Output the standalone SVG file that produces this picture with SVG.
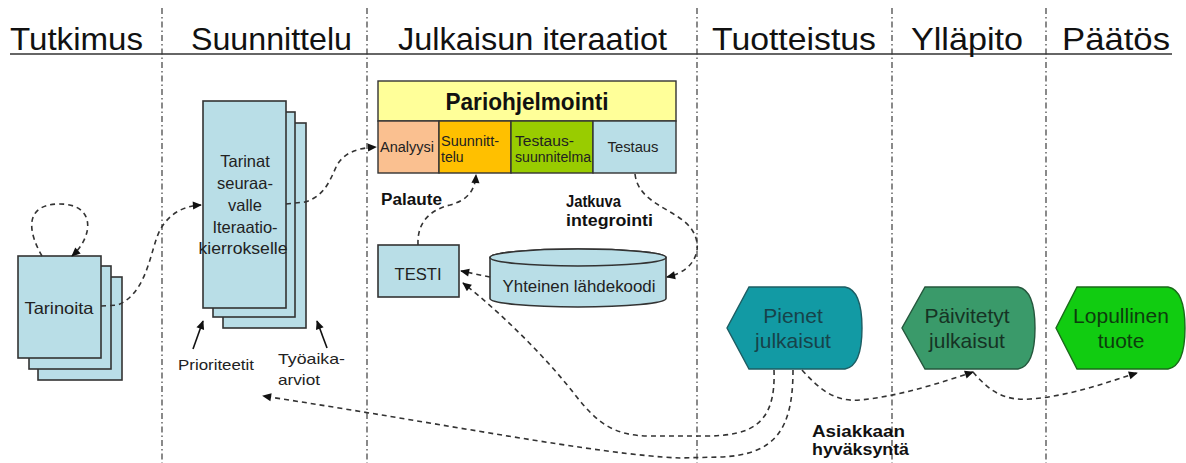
<svg xmlns="http://www.w3.org/2000/svg" width="1186" height="463" viewBox="0 0 1186 463">
  <defs>
    <marker id="ah" viewBox="0 0 10 10" refX="9" refY="5" markerWidth="10" markerHeight="9" markerUnits="userSpaceOnUse" orient="auto">
      <path d="M0,0.5 L10,5 L0,9.5 Z" fill="#111"/>
    </marker>
    <style>
      .hdr { font-family: "Liberation Sans", Arial, sans-serif; font-size: 32px; fill: #111; }
      .lbl { font-family: "Liberation Sans", Arial, sans-serif; fill: #222; }
      .bold { font-family: "Liberation Sans", Arial, sans-serif; font-weight: bold; fill: #111; }
      .divider { stroke: #2a2a2a; stroke-width: 1.1; stroke-dasharray: 6 3 1.5 3; fill: none; }
      .card { fill: #B9DEE7; stroke: #333; stroke-width: 1.6; }
      .cell { stroke: #333; stroke-width: 1.4; }
      .flow { fill: none; stroke: #333; stroke-width: 1.6; stroke-dasharray: 5 4; marker-end: url(#ah); }
      .solid { fill: none; stroke: #111; stroke-width: 1.6; marker-end: url(#ah); }
      .disp { font-family: "Liberation Sans", Arial, sans-serif; font-size: 21px; text-anchor: middle; }
    </style>
  </defs>

  <rect width="1186" height="463" fill="#fff"/>

  <!-- phase columns -->
  <g id="phases">
    <line class="divider" x1="162" y1="8" x2="162" y2="463"/>
    <line class="divider" x1="367" y1="8" x2="367" y2="463"/>
    <line class="divider" x1="697" y1="8" x2="697" y2="463"/>
    <line class="divider" x1="892" y1="8" x2="892" y2="463"/>
    <line class="divider" x1="1046" y1="8" x2="1046" y2="463"/>
    <line x1="10" y1="54" x2="1172" y2="54" stroke="#333" stroke-width="1.6"/>
    <text class="hdr" x="10" y="50" textLength="133" lengthAdjust="spacingAndGlyphs">Tutkimus</text>
    <text class="hdr" x="191" y="50" textLength="161" lengthAdjust="spacingAndGlyphs">Suunnittelu</text>
    <text class="hdr" x="398" y="50" textLength="269" lengthAdjust="spacingAndGlyphs">Julkaisun iteraatiot</text>
    <text class="hdr" x="712" y="50" textLength="164" lengthAdjust="spacingAndGlyphs">Tuotteistus</text>
    <text class="hdr" x="911" y="50" textLength="112" lengthAdjust="spacingAndGlyphs">Ylläpito</text>
    <text class="hdr" x="1062" y="50" textLength="108" lengthAdjust="spacingAndGlyphs">Päätös</text>
  </g>

  <!-- story stack -->
  <g id="tarinoita">
    <rect class="card" x="38" y="277" width="84" height="103"/>
    <rect class="card" x="29" y="266" width="82" height="103"/>
    <rect class="card" x="18" y="256" width="83" height="102"/>
    <text class="lbl" x="59" y="314" font-size="16.5" text-anchor="middle" textLength="69" lengthAdjust="spacingAndGlyphs">Tarinoita</text>
  </g>

  <!-- stories for next iteration -->
  <g id="tarinat">
    <rect class="card" x="223" y="123" width="83" height="205"/>
    <rect class="card" x="213" y="112" width="82" height="205"/>
    <rect class="card" x="203" y="101" width="83" height="207"/>
    <g class="lbl" font-size="16.5" text-anchor="middle">
      <text x="245" y="167">Tarinat</text>
      <text x="245" y="189">seuraa-</text>
      <text x="245" y="211">valle</text>
      <text x="245" y="233">Iteraatio-</text>
      <text x="243" y="254" textLength="89" lengthAdjust="spacingAndGlyphs">kierrokselle</text>
    </g>
  </g>

  <g id="prioriteetit">
    <text class="lbl" x="178" y="370" font-size="15" textLength="76" lengthAdjust="spacingAndGlyphs">Prioriteetit</text>
  </g>
  <g id="tyoaika">
    <text class="lbl" x="278" y="364" font-size="15" textLength="67" lengthAdjust="spacingAndGlyphs">Työaika-</text>
    <text class="lbl" x="278" y="385" font-size="15" textLength="42" lengthAdjust="spacingAndGlyphs">arviot</text>
  </g>

  <!-- pair programming block -->
  <g id="pariohjelmointi">
    <rect class="cell" x="378" y="81" width="298" height="40" fill="#FFFF99"/>
    <text class="bold" x="527" y="110" font-size="23" text-anchor="middle" textLength="163" lengthAdjust="spacingAndGlyphs">Pariohjelmointi</text>
  </g>
  <g id="analyysi">
    <rect class="cell" x="378" y="121" width="61" height="52" fill="#FAC090"/>
    <text class="lbl" x="380" y="152" font-size="14" textLength="54" lengthAdjust="spacingAndGlyphs">Analyysi</text>
  </g>
  <g id="suunnittelu-cell">
    <rect class="cell" x="439" y="121" width="72" height="52" fill="#FFC000"/>
    <text class="lbl" x="441" y="146" font-size="14" textLength="58" lengthAdjust="spacingAndGlyphs">Suunnitt-</text>
    <text class="lbl" x="441" y="162" font-size="14">telu</text>
  </g>
  <g id="testaussuunnitelma">
    <rect class="cell" x="511" y="121" width="82" height="52" fill="#99CC00"/>
    <text class="lbl" x="515" y="146" font-size="14" textLength="59" lengthAdjust="spacingAndGlyphs">Testaus-</text>
    <text class="lbl" x="515" y="162" font-size="14" textLength="76" lengthAdjust="spacingAndGlyphs">suunnitelma</text>
  </g>
  <g id="testaus">
    <rect class="cell" x="593" y="121" width="83" height="52" fill="#B9DEE7"/>
    <text class="lbl" x="633" y="152" font-size="14" text-anchor="middle" textLength="51" lengthAdjust="spacingAndGlyphs">Testaus</text>
  </g>

  <g id="testi">
    <rect class="card" x="378" y="245" width="81" height="52"/>
    <text class="lbl" x="418" y="280" font-size="16" text-anchor="middle" textLength="47" lengthAdjust="spacingAndGlyphs">TESTI</text>
  </g>

  <!-- shared source repository -->
  <g id="lahdekoodi">
    <path class="card" d="M490,257.5 L490,298.5 A88,8.5 0 0 0 666,298.5 L666,257.5 A88,8.5 0 0 0 490,257.5 Z"/>
    <ellipse cx="578" cy="257.5" rx="88" ry="8.5" fill="#B9DEE7" stroke="#333" stroke-width="1.6"/>
    <text class="lbl" x="579" y="292" font-size="16" text-anchor="middle" textLength="153" lengthAdjust="spacingAndGlyphs">Yhteinen lähdekoodi</text>
  </g>

  <!-- release shapes -->
  <g id="pienet">
    <path d="M749,287 L845,287 Q862,290 862,328 Q862,366 845,369 L749,369 L727,328 Z" fill="#129AA4" stroke="#1d5d63" stroke-width="1.4"/>
    <text class="disp" x="793" y="323" fill="#17434a">Pienet</text>
    <text class="disp" x="793" y="348" fill="#17434a">julkaisut</text>
  </g>
  <g id="paivitetyt">
    <path d="M925,287 L1018,287 Q1035,290 1035,328 Q1035,366 1018,369 L925,369 L902,328 Z" fill="#3A9A6A" stroke="#25573d" stroke-width="1.4"/>
    <text class="disp" x="967" y="323" fill="#163324">Päivitetyt</text>
    <text class="disp" x="967" y="348" fill="#163324">julkaisut</text>
  </g>
  <g id="lopullinen">
    <path d="M1077,287 L1168,287 Q1185,290 1185,328 Q1185,366 1168,369 L1077,369 L1056,328 Z" fill="#11CC11" stroke="#1a6a1a" stroke-width="1.4"/>
    <text class="disp" x="1121" y="323" fill="#0d3d0d">Lopullinen</text>
    <text class="disp" x="1121" y="348" fill="#0d3d0d">tuote</text>
  </g>

  <!-- edge labels -->
  <g id="labels">
    <text class="bold" x="381" y="205" font-size="16" textLength="61" lengthAdjust="spacingAndGlyphs">Palaute</text>
    <text class="bold" x="566" y="207" font-size="16" textLength="55" lengthAdjust="spacingAndGlyphs">Jatkuva</text>
    <text class="bold" x="566" y="226" font-size="16" textLength="87" lengthAdjust="spacingAndGlyphs">integrointi</text>
    <text class="bold" x="812" y="437" font-size="16" textLength="93" lengthAdjust="spacingAndGlyphs">Asiakkaan</text>
    <text class="bold" x="812" y="455" font-size="16" textLength="97" lengthAdjust="spacingAndGlyphs">hyväksyntä</text>
  </g>

  <!-- connectors -->
  <g id="connectors">
    <path class="flow" d="M42,256 C 28,232 24,205 58,204 C 96,203 94,236 72,256"/>
    <path class="flow" d="M101,306 L118,305 C 148,292 150,250 160,230 C 170,212 185,206 201,205"/>
    <path class="flow" d="M286,204 L305,202 C 325,196 330,180 337,165 C 345,152 358,148 376,147"/>
    <path class="flow" d="M418,245 C 417,222 430,210 450,205 C 468,200 475,190 476,175"/>
    <path class="flow" d="M635,174 C 638,200 665,206 685,222 C 706,240 700,270 667,277"/>
    <path class="flow" d="M490,277 L461,271"/>
    <path class="flow" d="M774,370 C 776,424 752,436 705,436 L650,436 C 612,436 596,421 576,396 C 545,356 500,312 463,283"/>
    <path class="flow" d="M793,370 C 793,430 775,455 720,457 L680,458 C 600,455 440,423 263,396"/>
    <path class="flow" d="M802,370 C 820,390 835,402 860,400 C 900,396 940,383 973,372"/>
    <path class="flow" d="M973,372 C 990,392 1005,401 1030,399 C 1070,396 1105,383 1137,373"/>
    <path class="solid" d="M193,349 L203,321"/>
    <path class="solid" d="M327,348 L317,321"/>
  </g>
</svg>
